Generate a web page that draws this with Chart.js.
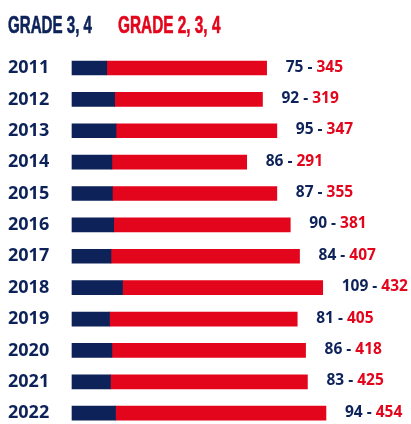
<!DOCTYPE html>
<html>
<head>
<meta charset="utf-8">
<script src="https://cdn.jsdelivr.net/npm/chart.js@4/dist/chart.umd.min.js"></script>
<style>
  html, body { margin: 0; padding: 0; background: #ffffff; }
  #wrap { position: relative; width: 411px; height: 424px; overflow: hidden; }
  #chart { position: absolute; left: 0; top: 0; }
  .hdr { position: absolute; top: 12.5px; font-family: "Liberation Sans", sans-serif;
         font-weight: bold; font-size: 24px; line-height: 1; white-space: nowrap; transform-origin: 0 0; }
  #h1 { left: 8px; color: #0c2259; -webkit-text-stroke: 0.6px #0c2259; transform: scaleX(0.63); }
  #h2 { left: 118px; color: #e3051b; -webkit-text-stroke: 0.6px #e3051b; transform: scaleX(0.64); }
</style>
</head>
<body>
<div id="wrap">
  <canvas id="chart" width="411" height="424"></canvas>
  <div class="hdr" id="h1">GRADE 3, 4</div>
  <div class="hdr" id="h2">GRADE 2, 3, 4</div>
</div>
<script>
const years = ['2011','2012','2013','2014','2015','2016','2017','2018','2019','2020','2021','2022'];
const grade34 = [75, 92, 95, 86, 87, 90, 84, 109, 81, 86, 83, 94];
const grade234 = [345, 319, 347, 291, 355, 381, 407, 432, 405, 418, 425, 454];
const seriesNames = ['GRADE 3, 4', 'GRADE 2, 3, 4'];

const NAVY = '#0c2259';
const RED = '#e3051b';

const valueLabels = {
  id: 'valueLabels',
  afterDatasetsDraw(chart) {
    const ctx = chart.ctx;
    const meta = chart.getDatasetMeta(1);
    ctx.save();
    ctx.font = 'bold 15.5px "Open Sans", sans-serif';
    ctx.textBaseline = 'alphabetic';
    ctx.textAlign = 'left';
    meta.data.forEach((bar, i) => {
      const x = bar.x + 19;
      const y = bar.y + 3.5;
      const a = grade34[i] + ' - ';
      ctx.fillStyle = NAVY;
      ctx.fillText(a, x, y);
      const w = ctx.measureText(a).width;
      ctx.fillStyle = RED;
      ctx.fillText(String(grade234[i]), x + w, y);
    });
    ctx.restore();
  }
};

new Chart(document.getElementById('chart'), {
  type: 'bar',
  data: {
    labels: years,
    datasets: [
      { label: seriesNames[0], data: grade34, backgroundColor: NAVY, borderWidth: 0, barThickness: 14, clip: false },
      { label: seriesNames[1], data: grade234, backgroundColor: RED, borderWidth: 0, barThickness: 14, clip: false }
    ]
  },
  options: {
    indexAxis: 'y',
    responsive: false,
    animation: false,
    layout: { padding: { left: 8, right: 14.6, top: 68, bottom: 8 } },
    plugins: { legend: { display: false }, tooltip: { enabled: false }, title: { display: false } },
    scales: {
      x: { stacked: true, display: false, min: 0, max: 700 },
      y: {
        stacked: true,
        offset: false,
        grid: { display: false },
        border: { display: false },
        ticks: {
          color: NAVY,
          font: { family: '"Open Sans", sans-serif', weight: 'bold', size: 18 },
          crossAlign: 'far',
          padding: 0
        },
        afterFit(scale) { scale.width = 64; }
      }
    }
  },
  plugins: [valueLabels]
});
</script>
</body>
</html>
